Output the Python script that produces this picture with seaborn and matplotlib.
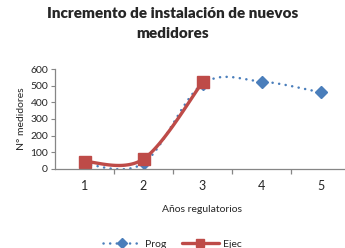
import matplotlib
matplotlib.use("Agg")
import matplotlib.pyplot as plt
from matplotlib.lines import Line2D
import seaborn as sns
import numpy as np
import pandas as pd

years = [1, 2, 3, 4, 5]
prog = [30, 35, 510, 525, 460]
ejec = [45, 60, 520]

BLUE = "#4A7EBB"
RED = "#BE4B48"
GREY = "#868686"
DOTS = (0, (0.05, 2.6))


def smooth(xs, ys, n=40):
    # Excel-style smoothed line: cubic bezier through the points
    xs = np.asarray(xs, float)
    ys = np.asarray(ys, float)
    px = np.concatenate([[xs[0]], xs, [xs[-1]]])
    py = np.concatenate([[ys[0]], ys, [ys[-1]]])
    ox, oy = [], []
    t = np.linspace(0, 1, n)
    for i in range(1, len(xs)):
        p0 = np.array([px[i], py[i]])
        p3 = np.array([px[i + 1], py[i + 1]])
        c1 = p0 + (p3 - np.array([px[i - 1], py[i - 1]])) / 6
        c2 = p3 - (np.array([px[i + 2], py[i + 2]]) - p0) / 6
        b = ((1 - t) ** 3)[:, None] * p0 + (3 * (1 - t) ** 2 * t)[:, None] * c1 \
            + (3 * (1 - t) * t ** 2)[:, None] * c2 + (t ** 3)[:, None] * p3
        ox.extend(b[:, 0])
        oy.extend(b[:, 1])
    return pd.DataFrame({"x": ox, "y": oy})


sns.set_style("white")
plt.rcParams["font.family"] = ["Lato", "DejaVu Sans"]

fig = plt.figure(figsize=(3.45, 2.48), dpi=100)
ax = fig.add_axes([55 / 345, 79 / 248, 295 / 345, 100 / 248])

sp = smooth(years, prog)
se = smooth(years[:3], ejec)
sns.lineplot(data=sp, x="x", y="y", sort=False, ax=ax, color=BLUE,
             linewidth=1.8, linestyle=DOTS, dash_capstyle="round")
sns.lineplot(data=se, x="x", y="y", sort=False, ax=ax, color=RED, linewidth=2.4)
ax.plot(years, prog, linestyle="none", marker="D", markersize=6.5, color=BLUE)
ax.plot(years[:3], ejec, linestyle="none", marker="s", markersize=8, color=RED)

ax.set_xlim(0.5, 5.5)
ax.set_ylim(0, 600)
ax.set_yticks(range(0, 601, 100))
ax.set_xticks(years)
ax.set_xticks([1.5, 2.5, 3.5, 4.5], minor=True)
ax.tick_params(axis="x", which="major", bottom=True, length=0, labelsize=9, pad=8)
ax.tick_params(axis="x", which="minor", bottom=True, length=3.5, color=GREY,
               direction="out", width=0.9)
ax.tick_params(axis="y", left=True, length=3, color=GREY, direction="out",
               labelsize=7.5, pad=2, width=0.8)
for s in ["top", "right"]:
    ax.spines[s].set_visible(False)
for s in ["left", "bottom"]:
    ax.spines[s].set_color(GREY)
    ax.spines[s].set_linewidth(0.9)

ax.set_xlabel("Años regulatorios", fontsize=7.5, labelpad=9)
ax.set_ylabel("N° medidores", fontsize=7.5, labelpad=3)

fig.suptitle("Incremento de instalación de nuevos\nmedidores", fontsize=11,
             fontweight="heavy", x=0.5, y=0.97, linespacing=1.6)

handles = [
    Line2D([], [], color=BLUE, linewidth=1.8, linestyle=DOTS,
           dash_capstyle="round", marker="D", markersize=5),
    Line2D([], [], color=RED, linewidth=2.4, marker="s", markersize=6),
]
fig.legend(handles, ["Prog", "Ejec"], loc="center", bbox_to_anchor=(0.5, 0.015),
           ncol=2, frameon=False, fontsize=7.5, handlelength=3.6, columnspacing=1.5,
           handletextpad=0.4)

fig.savefig("out.png", dpi=100)
